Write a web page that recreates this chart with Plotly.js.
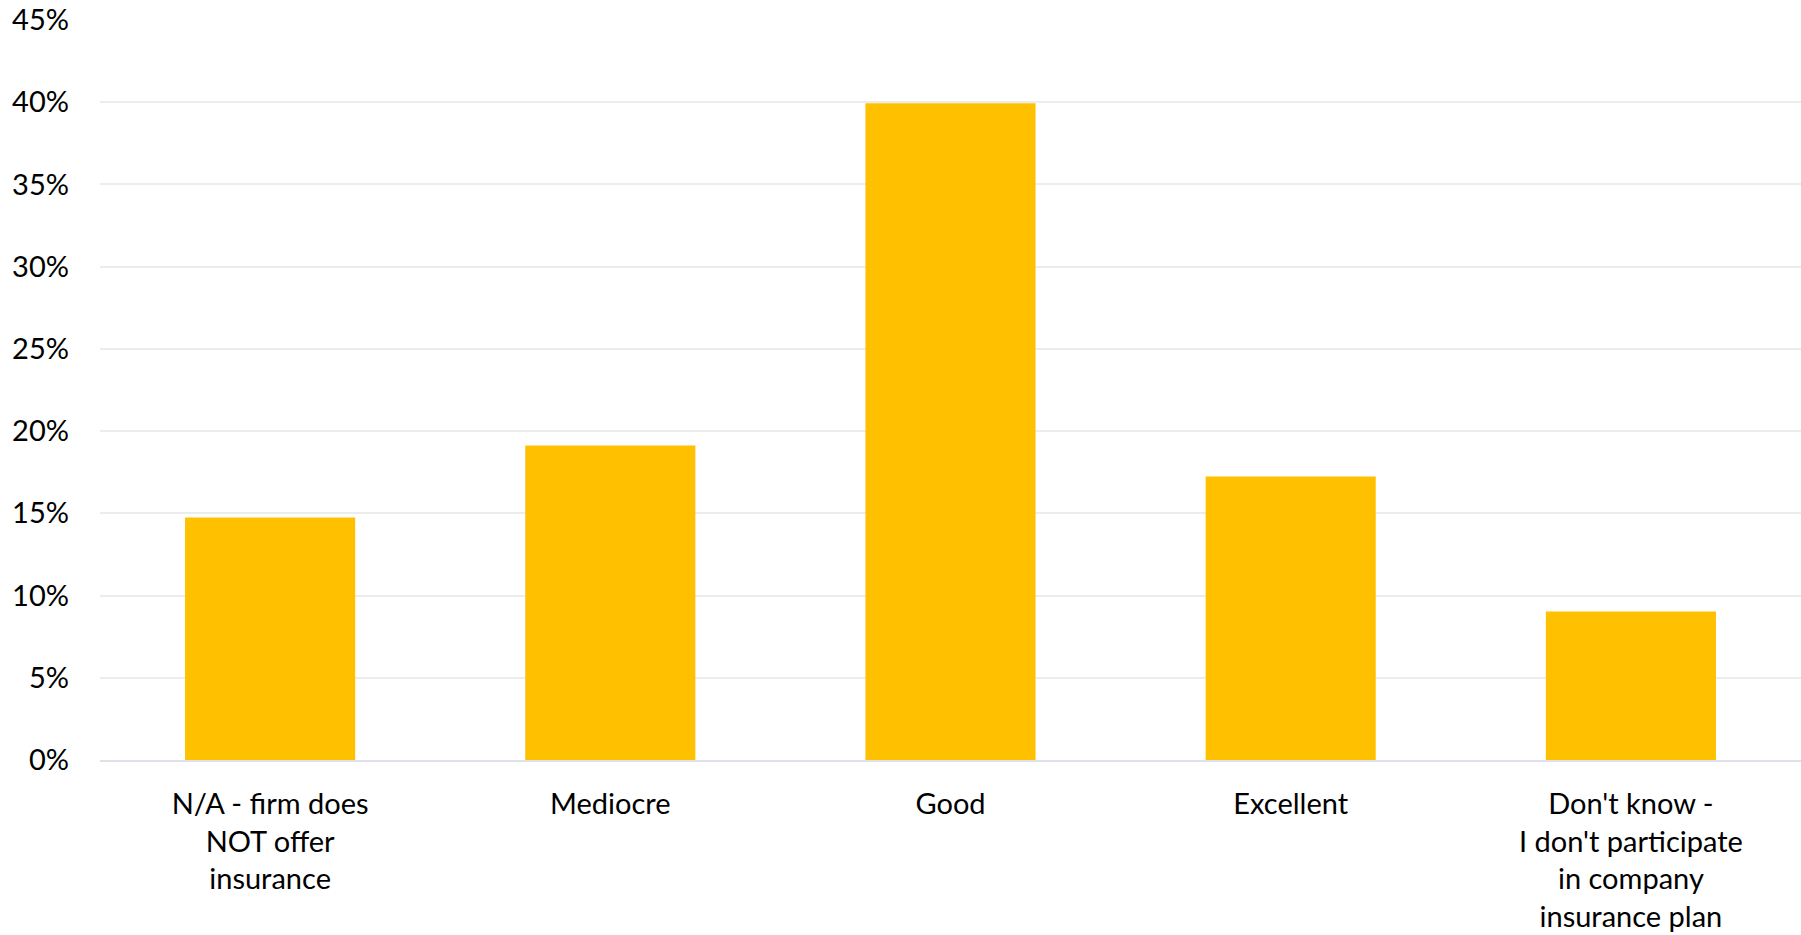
<!DOCTYPE html>
<html>
<head>
<meta charset="utf-8">
<script src="https://cdn.plot.ly/plotly-3.0.1.min.js"></script>
<style>
html,body{margin:0;padding:0;background:#fff;}
#chart{width:1801px;height:935px;}
</style>
</head>
<body>
<div id="chart"></div>
<script>
const categories = [
  "N/A - firm does<br>NOT offer<br>insurance",
  "Mediocre",
  "Good",
  "Excellent",
  "Don't know -<br>I don't participate<br>in company<br>insurance plan"
];
const values = [0.1475, 0.1913, 0.3993, 0.1724, 0.0903];
const tickVals = [0, 0.05, 0.10, 0.15, 0.20, 0.25, 0.30, 0.35, 0.40, 0.45];
const tickText = ["0%", "5%", "10%", "15%", "20%", "25%", "30%", "35%", "40%", "45%"];

const trace = {
  type: "bar",
  x: categories,
  y: values,
  marker: {color: "#FFC000"},
  width: 0.5,
  hoverinfo: "skip"
};

const layout = {
  width: 1801,
  height: 935,
  margin: {l: 100, r: 0, t: 20, b: 175},
  paper_bgcolor: "#ffffff",
  plot_bgcolor: "#ffffff",
  showlegend: false,
  font: {family: "Lato, 'Open Sans', sans-serif", size: 29, color: "#000000"},
  xaxis: {
    type: "category",
    showgrid: false,
    showline: true,
    linecolor: "#dde1e8",
    linewidth: 2,
    ticks: "",
    ticklabelstandoff: 17,
    tickfont: {size: 29, color: "#000000"},
    fixedrange: true
  },
  yaxis: {
    range: [0, 0.45],
    tickvals: tickVals,
    ticktext: tickText,
    showgrid: true,
    gridcolor: "#ececec",
    gridwidth: 2,
    zeroline: false,
    showline: false,
    ticks: "",
    ticklabelstandoff: 30,
    tickfont: {size: 29, color: "#000000"},
    fixedrange: true
  }
};

Plotly.newPlot("chart", [trace], layout, {displayModeBar: false, staticPlot: true});
</script>
</body>
</html>
